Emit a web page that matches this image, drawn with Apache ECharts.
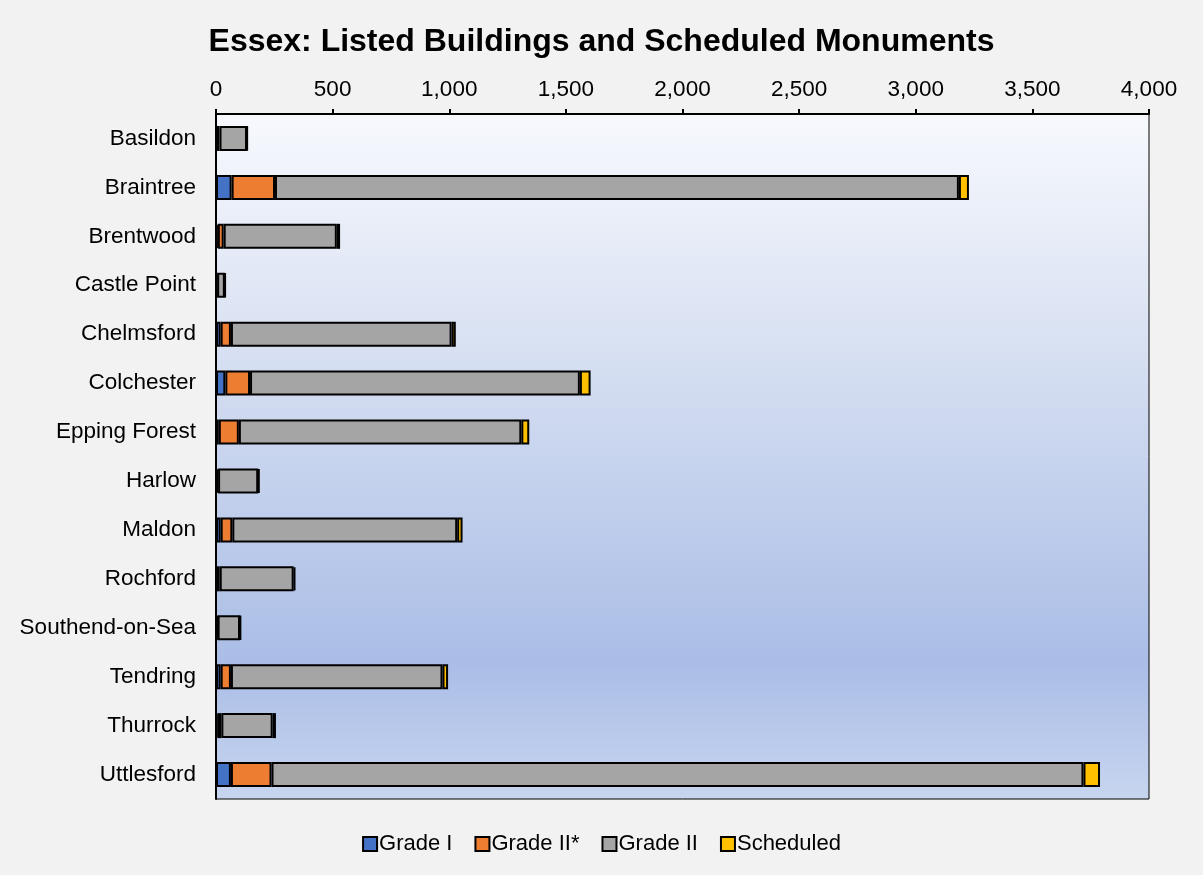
<!DOCTYPE html>
<html>
<head>
<meta charset="utf-8">
<script src="https://cdn.jsdelivr.net/npm/echarts@6/dist/echarts.min.js"></script>
<style>
  html, body { margin: 0; padding: 0; background: #f2f2f2; }
  #chart { width: 1203px; height: 875px; }
</style>
</head>
<body>
<div id="chart"></div>
<script>
// districts, top to bottom
const districts = ['Basildon', 'Braintree', 'Brentwood', 'Castle Point', 'Chelmsford', 'Colchester',
  'Epping Forest', 'Harlow', 'Maldon', 'Rochford', 'Southend-on-Sea', 'Tendring', 'Thurrock', 'Uttlesford']

const gradeI = [3, 67, 8, 1, 20, 40, 12, 3, 20, 3, 2, 20, 6, 64]
const gradeIIStar = [12, 186, 25, 4, 44, 106, 86, 6, 50, 13, 5, 44, 17, 174]
const gradeII = [118, 2932, 485, 33, 946, 1414, 1211, 172, 964, 317, 96, 907, 220, 3481]
const scheduled = [1, 43, 14, 2, 18, 46, 34, 5, 23, 7, 3, 24, 14, 71]

const seriesNames = ['Grade I', 'Grade II*', 'Grade II', 'Scheduled']
const seriesColors = ['#4472c4', '#ed7d31', '#a5a5a5', '#ffc000']
const seriesData = [gradeI, gradeIIStar, gradeII, scheduled]

const chart = echarts.init(document.getElementById('chart'))

const font = 'Liberation Sans, Arial, sans-serif'

const option = {
  backgroundColor: '#f2f2f2',
  animation: false,
  title: {
    text: 'Essex: Listed Buildings and Scheduled Monuments',
    left: 'center',
    top: 21,
    textStyle: {
      fontFamily: font,
      fontSize: 32,
      fontWeight: 'bold',
      color: '#000'
    }
  },
  legend: {
    data: seriesNames,
    bottom: 15,
    left: 'center',
    itemWidth: 14,
    itemHeight: 14,
    itemGap: 22,
    icon: 'rect',
    itemStyle: { borderColor: '#000', borderWidth: 2 },
    textStyle: {
      fontFamily: font,
      fontSize: 22,
      color: '#000',
      padding: [0, 0, 0, -3]
    }
  },
  grid: {
    left: 216,
    right: 54,
    top: 114,
    bottom: 76,
    show: true,
    borderColor: '#000',
    borderWidth: 1,
    backgroundColor: {
      type: 'linear',
      x: 0, y: 0, x2: 0, y2: 1,
      colorStops: [
        { offset: 0, color: '#f7f9fd' },
        { offset: 0.35, color: '#d7e0f2' },
        { offset: 0.8, color: '#aabde6' },
        { offset: 1, color: '#c7d5ef' }
      ]
    }
  },
  xAxis: {
    type: 'value',
    position: 'top',
    min: 0,
    max: 4000,
    interval: 500,
    axisLine: { show: true, lineStyle: { color: '#000', width: 2 } },
    axisTick: { show: true, length: 5, lineStyle: { color: '#000', width: 2 } },
    axisLabel: {
      fontFamily: font,
      fontSize: 22.5,
      color: '#000',
      margin: 13,
      formatter: v => v.toLocaleString('en-US')
    },
    splitLine: { show: false }
  },
  yAxis: {
    type: 'category',
    data: districts,
    inverse: true,
    axisLine: { show: true, lineStyle: { color: '#000', width: 2 } },
    axisTick: { show: false },
    axisLabel: {
      fontFamily: font,
      fontSize: 22.5,
      color: '#000',
      margin: 20
    }
  },
  series: seriesNames.map((name, i) => ({
    name: name,
    type: 'bar',
    stack: 'total',
    data: seriesData[i],
    barWidth: 25,
    itemStyle: {
      color: seriesColors[i],
      borderColor: '#000',
      borderWidth: 2
    }
  }))
}

chart.setOption(option)
</script>
</body>
</html>
